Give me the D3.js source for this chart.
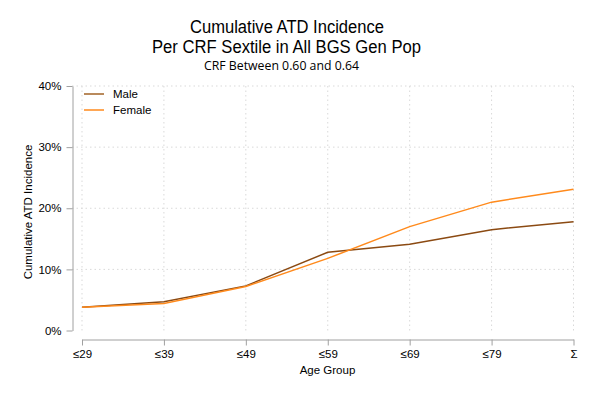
<!DOCTYPE html>
<html lang="en">
<head>
    <meta charset="UTF-8">
    <title>Cumulative ATD Incidence</title>
    <script src="https://d3js.org/d3.v7.min.js"></script>
    <style>
        body { margin: 0; background: #fff; }
        svg { font-family: "Liberation Sans", Arial, sans-serif; }
        .grid line { stroke: #d9d9d9; stroke-dasharray: 1.5 3; }
        .axis path, .axis line { stroke: #a0a0a0; }
        .axis text { fill: #000; font-size: 11.5px; font-family: "Liberation Sans", Arial, sans-serif; }
    </style>
</head>
<body>
    <svg width="597" height="398"></svg>
    <script>
        const ageGroups = ["≤29", "≤39", "≤49", "≤59", "≤69", "≤79", "Σ"];
        const maleValues = [0.038, 0.047, 0.073, 0.128, 0.141, 0.165, 0.178];
        const femaleValues = [0.038, 0.044, 0.072, 0.118, 0.170, 0.210, 0.231];
        const yTicks = [0, 0.1, 0.2, 0.3, 0.4];

        const series = [
            { name: "Male", values: maleValues, color: "#8b4a12", legendColor: "#b98a5c" },
            { name: "Female", values: femaleValues, color: "#ff8a1c", legendColor: "#ff8a1c" }
        ];

        const svg = d3.select("svg");

        const x = d3.scalePoint().domain(ageGroups).range([82, 573.5]);
        const y = d3.scaleLinear().domain([0, 0.4]).range([330.5, 86]);

        // titles (reference glyphs are narrower than Liberation Sans, so squeeze them)
        svg.append("text").attr("x", 287).attr("y", 33)
            .attr("text-anchor", "middle").style("font-size", "17.5px")
            .attr("textLength", 194).attr("lengthAdjust", "spacingAndGlyphs")
            .text("Cumulative ATD Incidence");
        svg.append("text").attr("x", 286.5).attr("y", 52.5)
            .attr("text-anchor", "middle").style("font-size", "17.5px")
            .attr("textLength", 269).attr("lengthAdjust", "spacingAndGlyphs")
            .text("Per CRF Sextile in All BGS Gen Pop");
        svg.append("text").attr("x", 281.5).attr("y", 69.5)
            .attr("text-anchor", "middle")
            .style("font-family", "'Open Sans', 'Noto Sans', sans-serif")
            .style("font-size", "12.5px")
            .attr("textLength", 155).attr("lengthAdjust", "spacingAndGlyphs")
            .text("CRF Between 0.60 and 0.64");

        // grid
        const grid = svg.append("g").attr("class", "grid");
        grid.selectAll(".gy").data(yTicks.slice(1)).enter().append("line")
            .attr("x1", 72).attr("x2", 576)
            .attr("y1", d => y(d)).attr("y2", d => y(d));
        grid.selectAll(".gx").data(ageGroups).enter().append("line")
            .attr("x1", d => x(d)).attr("x2", d => x(d))
            .attr("y1", 86).attr("y2", 333);

        // axes
        const yAxis = svg.append("g").attr("class", "axis")
            .attr("transform", "translate(72.5,0)")
            .call(d3.axisLeft(y).tickValues(yTicks).tickFormat(d3.format(".0%")).tickSize(6).tickSizeOuter(0));
        yAxis.selectAll("text").attr("dx", "-2");

        svg.append("g").attr("class", "axis")
            .attr("transform", "translate(0,339.5)")
            .call(d3.axisBottom(x).tickSize(6).tickSizeOuter(0))
            .selectAll("text").attr("y", 18.5).attr("dy", 0);

        svg.append("text").attr("x", 327.5).attr("y", 374)
            .attr("text-anchor", "middle").style("font-size", "11.5px")
            .text("Age Group");
        svg.append("text")
            .attr("transform", "translate(32,212) rotate(-90)")
            .attr("text-anchor", "middle").style("font-size", "11.5px")
            .text("Cumulative ATD Incidence");

        // lines
        const line = d3.line()
            .x((d, i) => x(ageGroups[i]))
            .y(d => y(d));

        svg.selectAll(".series").data(series).enter().append("path")
            .attr("fill", "none")
            .attr("stroke", d => d.color)
            .attr("stroke-width", 1.5)
            .attr("d", d => line(d.values));

        // legend
        const legend = svg.selectAll(".legend").data(series).enter().append("g")
            .attr("transform", (d, i) => `translate(84,${94 + i * 16})`);
        legend.append("line")
            .attr("x1", 0).attr("x2", 20)
            .attr("stroke", d => d.legendColor)
            .attr("stroke-width", d => d.name === "Male" ? 2 : 1.5);
        legend.append("text")
            .attr("x", 29).attr("y", 4)
            .style("font-size", "11.5px")
            .text(d => d.name);
    </script>
</body>
</html>
